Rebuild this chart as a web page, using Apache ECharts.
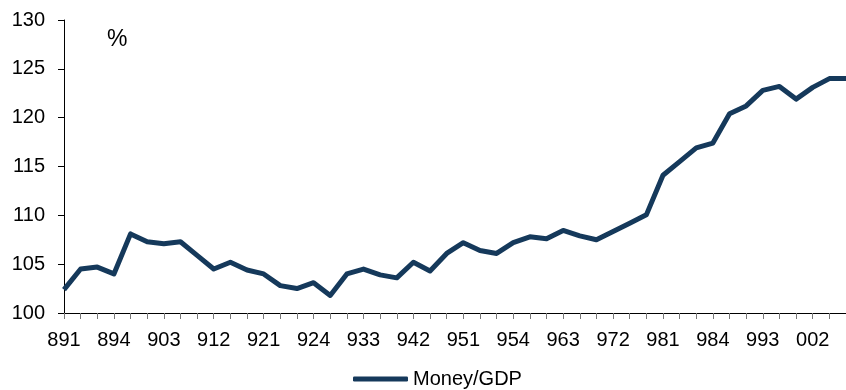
<!DOCTYPE html>
<html>
<head>
<meta charset="utf-8">
<script src="https://cdn.jsdelivr.net/npm/echarts@6/dist/echarts.min.js"></script>
<style>
html, body { margin: 0; padding: 0; background: #fff; }
#demo { width: 846px; height: 390px; }
</style>
</head>
<body>
<div id="demo"></div>
<script>
// 数据
var periods = ['891','892','893','894','901','902','903','904','911','912','913','914',
    '921','922','923','924','931','932','933','934','941','942','943','944',
    '951','952','953','954','961','962','963','964','971','972','973','974',
    '981','982','983','984','991','992','993','994','001','002','003','004'];
var moneyGdp = [102.4, 104.5, 104.7, 104.0, 108.1, 107.3, 107.1, 107.3, 105.9, 104.5, 105.2, 104.4,
    104.0, 102.8, 102.5, 103.1, 101.8, 104.0, 104.5, 103.9, 103.6, 105.2, 104.3, 106.1,
    107.2, 106.4, 106.1, 107.2, 107.8, 107.6, 108.45, 107.9, 107.5, 108.35, 109.2, 110.05,
    114.1, 115.5, 116.9, 117.4, 120.4, 121.2, 122.8, 123.2, 121.9, 123.1, 124.0, 124.0];
var shownLabels = ['891','894','903','912','921','924','933','942','951','954','963','972','981','984','993','002'];
var labelIdx = [0,3,6,9,12,15,18,21,24,27,30,33,36,39,42,45];

var myChart = echarts.init(document.getElementById('demo'));

var option = {
    animation: false,
    backgroundColor: '#fff',
    textStyle: { fontFamily: 'Liberation Sans, Arial, sans-serif' },
    title: {
        text: '%',
        left: 102,
        top: 23,
        textStyle: { fontSize: 23, fontWeight: 'normal', color: '#000' }
    },
    legend: {
        data: ['Money/GDP'],
        bottom: 1,
        left: 353,
        padding: 0,
        icon: 'roundRect',
        itemWidth: 55,
        itemHeight: 5,
        itemGap: 10,
        textStyle: { fontSize: 20, color: '#000' }
    },
    grid: {
        left: 64,
        right: -10,
        top: 20,
        bottom: 77
    },
    xAxis: {
        type: 'category',
        boundaryGap: false,
        data: periods,
        axisLine: { lineStyle: { color: '#000', width: 1 } },
        axisTick: {
            show: true,
            interval: 0,
            length: 6,
            lineStyle: { color: '#777' }
        },
        axisLabel: {
            margin: 17,
            fontSize: 20,
            color: '#000',
            interval: function (index) {
                return labelIdx.indexOf(index) >= 0;
            },
            formatter: function (v, i) {
                var k = labelIdx.indexOf(i);
                return k >= 0 ? shownLabels[k] : '';
            }
        },
        splitLine: { show: false }
    },
    yAxis: {
        type: 'value',
        min: 100,
        max: 130,
        interval: 5,
        axisLine: { show: true, lineStyle: { color: '#000', width: 1 } },
        axisTick: { show: true, length: 6, lineStyle: { color: '#000' } },
        axisLabel: { margin: 19, fontSize: 20, color: '#000' },
        splitLine: { show: false }
    },
    series: [
        {
            name: 'Money/GDP',
            type: 'line',
            data: moneyGdp,
            symbol: 'none',
            color: '#15395b',
            lineStyle: { width: 5, color: '#15395b', join: 'round' }
        }
    ]
};

myChart.setOption(option);
</script>
</body>
</html>
